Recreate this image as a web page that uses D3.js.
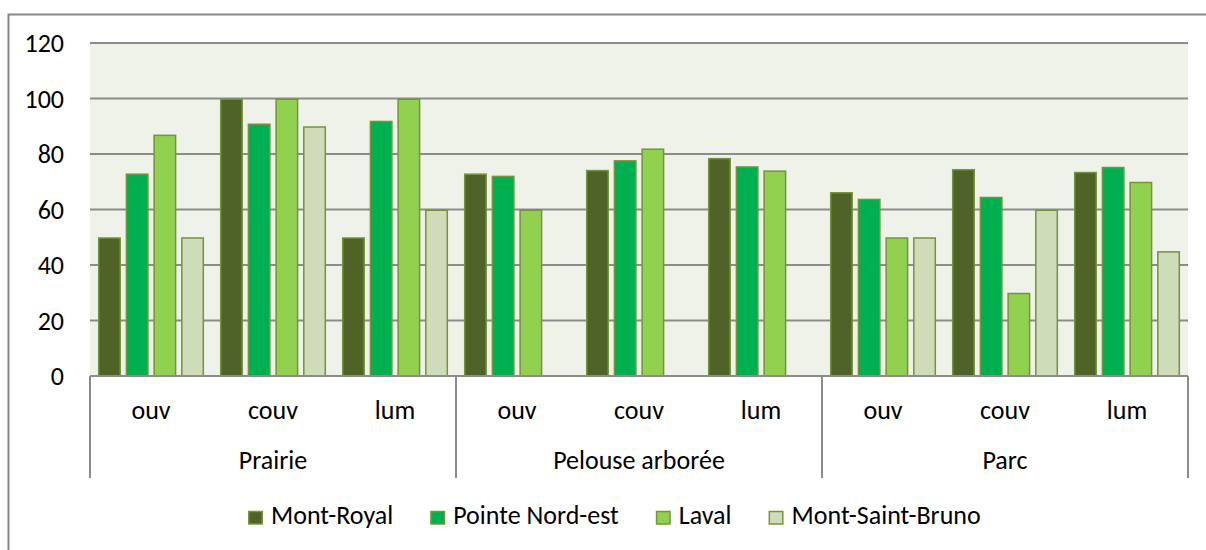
<!DOCTYPE html>
<html>
<head>
<meta charset="utf-8">
<script src="https://cdn.jsdelivr.net/npm/d3@7"></script>
<style>
  html, body { margin: 0; padding: 0; background: #fff; }
  svg { display: block; }
  text { font-family: Carlito, "Liberation Sans", Arial, sans-serif; fill: #000; }
</style>
</head>
<body>
<svg id="chart" width="1206" height="550"></svg>
<script>
// Habitat groups and the sub-measure inside each group
const groups = ["Prairie", "Pelouse arborée", "Parc"];
const measures = ["ouv", "couv", "lum"];
const series = ["Mont-Royal", "Pointe Nord-est", "Laval", "Mont-Saint-Bruno"];
const yTicks = [0, 20, 40, 60, 80, 100, 120];

// One value per group/measure pair, in order: Prairie ouv..lum, Pelouse ouv..lum, Parc ouv..lum
const montRoyal      = [50, 100, 50, 73, 74.3, 78.6, 66.3, 74.6, 73.6];
const pointeNordEst  = [73, 91, 92, 72.2, 77.8, 75.6, 63.9, 64.6, 75.4];
const laval          = [87, 100, 100, 60, 82, 74.1, 50, 30, 70];
const montSaintBruno = [50, 90, 60, null, null, null, 50, 60, 45];

const seriesValues = [montRoyal, pointeNordEst, laval, montSaintBruno];
const colors = ["#4F6228", "#00B050", "#92D050", "#CFDCB9"];
const barStroke = "#77933C";
const gridColor = "#8C8C8C";
const fontSize = 26;

const svg = d3.select("#chart");
const plot = { left: 90, right: 1188, top: 43, bottom: 376 };

// Outer frame (only top and left edges fall inside the canvas)
svg.append("rect")
  .attr("x", 8.5).attr("y", 14.5)
  .attr("width", 1220).attr("height", 560)
  .attr("fill", "none").attr("stroke", "#868686").attr("stroke-width", 2);

// Plot background
svg.append("rect")
  .attr("x", plot.left).attr("y", plot.top)
  .attr("width", plot.right - plot.left).attr("height", plot.bottom - plot.top)
  .attr("fill", "#EFF2E9");

const y = d3.scaleLinear().domain([0, 120]).range([plot.bottom, plot.top]);

const cats = [];
groups.forEach(g => measures.forEach(m => cats.push(g + "|" + m)));
const x = d3.scaleBand().domain(cats).range([plot.left, plot.right]).padding(0);
const xs = d3.scaleBand().domain(series).range([0, x.bandwidth()])
  .paddingInner(0.17).paddingOuter(0.287);

// Horizontal gridlines
svg.append("g").selectAll("line").data(yTicks.filter(t => t > 0)).join("line")
  .attr("x1", plot.left).attr("x2", plot.right)
  .attr("y1", d => y(d)).attr("y2", d => y(d))
  .attr("stroke", gridColor).attr("stroke-width", 2);

// Y axis labels
const yAxis = d3.axisLeft(y).tickValues(yTicks).tickSize(0).tickPadding(0);
const yg = svg.append("g").attr("transform", "translate(64,0)").call(yAxis);
yg.select(".domain").remove();
yg.selectAll("text").attr("font-size", fontSize).attr("font-family", null)
  .attr("dy", "0.34em").attr("text-anchor", "end");

// Bars
const barData = [];
cats.forEach((c, i) => series.forEach((s, j) => {
  const v = seriesValues[j][i];
  if (v != null) barData.push({ cat: c, s, v, color: colors[j] });
}));
svg.append("g").selectAll("rect").data(barData).join("rect")
  .attr("x", d => x(d.cat) + xs(d.s) + 0.75)
  .attr("width", xs.bandwidth() - 1.5)
  .attr("y", d => y(d.v) + 0.75)
  .attr("height", d => y(0) - y(d.v) - 0.75)
  .attr("fill", d => d.color)
  .attr("stroke", barStroke).attr("stroke-width", 1.5);

// Category axis baseline
svg.append("line")
  .attr("x1", plot.left).attr("x2", plot.right)
  .attr("y1", plot.bottom).attr("y2", plot.bottom)
  .attr("stroke", gridColor).attr("stroke-width", 2);

// Group separators spanning both label rows
const groupEdges = [0, 3, 6, 9].map(k => k < 9 ? x(cats[k]) : plot.right);
svg.append("g").selectAll("line").data(groupEdges).join("line")
  .attr("x1", d => d).attr("x2", d => d)
  .attr("y1", plot.bottom).attr("y2", 478)
  .attr("stroke", gridColor).attr("stroke-width", 2);

// Measure labels
svg.append("g").selectAll("text").data(cats).join("text")
  .attr("x", d => x(d) + x.bandwidth() / 2)
  .attr("y", 419)
  .attr("text-anchor", "middle").attr("font-size", fontSize)
  .text(d => d.split("|")[1]);

// Group labels
svg.append("g").selectAll("text").data(groups).join("text")
  .attr("x", (d, i) => (groupEdges[i] + groupEdges[i + 1]) / 2)
  .attr("y", 469)
  .attr("text-anchor", "middle").attr("font-size", fontSize)
  .text(d => d);

// Legend
const legend = svg.append("g");
let lx = 248;
series.forEach((s, i) => {
  legend.append("rect")
    .attr("x", lx + 0.75).attr("y", 511.5).attr("width", 13.5).attr("height", 12.5)
    .attr("fill", colors[i]).attr("stroke", barStroke).attr("stroke-width", 1.5);
  const t = legend.append("text")
    .attr("x", lx + 23).attr("y", 524)
    .attr("font-size", fontSize).text(s);
  lx += 23 + t.node().getComputedTextLength() + 37;
});
</script>
</body>
</html>
